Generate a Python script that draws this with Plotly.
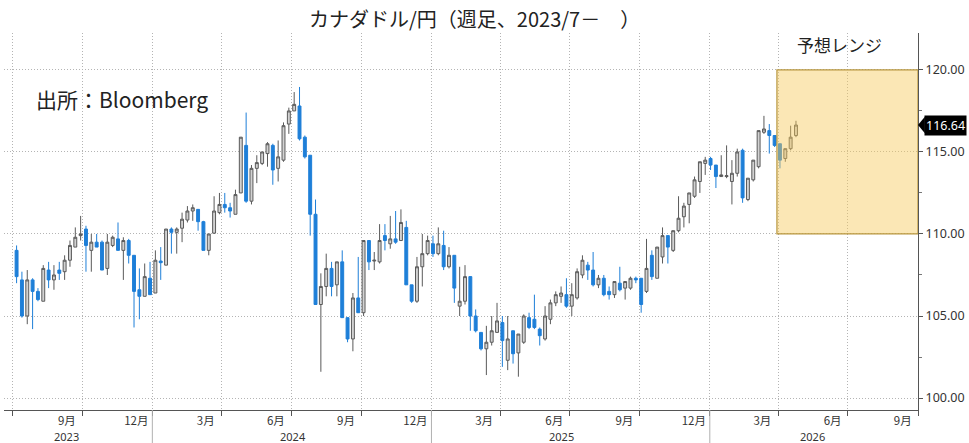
import pandas as pd
import plotly.graph_objects as go

# ---------------- data (weekly CAD/JPY) ----------------
week_start = "2023-07-07"
open_ = [109.0,107.2,105.0,107.2,106.5,105.9,107.8,107.2,107.8,107.7,108.4,109.2,109.9,110.3,109.0,109.5,109.5,107.9,109.3,109.7,
         109.0,109.6,108.7,106.6,106.2,107.3,106.4,108.35,108.1,110.3,110.1,110.35,110.85,111.4,111.5,110.75,109.0,110.05,111.3,111.8,
         111.6,111.2,112.5,115.4,112.0,114.0,114.3,114.9,115.4,114.0,114.5,116.7,117.5,117.8,115.9,114.8,111.2,105.7,106.8,107.9,
         106.9,108.3,104.9,103.6,106.1,105.2,109.6,108.35,108.3,109.9,109.4,109.7,109.6,110.4,106.9,105.9,108.0,108.8,109.4,108.8,
         109.3,108.0,108.7,105.6,105.9,107.4,105.0,104.0,103.0,103.4,104.0,104.6,102.3,104.1,102.75,103.4,104.9,104.8,104.2,103.6,
         104.8,105.8,106.2,106.3,105.6,106.1,107.5,108.1,107.8,106.9,107.3,106.5,106.3,107.0,106.7,106.7,107.3,107.3,106.5,108.7,
         107.3,108.6,109.9,109.0,110.2,111.05,111.8,112.3,113.2,114.3,114.6,114.2,113.5,113.5,113.2,113.7,115.1,112.1,113.3,114.1,
         116.2,116.3,116.0,115.5,114.6,115.2,116.0]
high = [109.3,107.7,107.8,107.3,106.7,108.1,108.3,108.1,108.3,108.7,109.6,110.4,111.1,110.5,110.0,110.0,109.6,110.0,109.9,110.7,
        109.8,109.7,108.7,107.9,108.2,108.3,109.0,109.2,110.3,110.4,110.4,111.3,111.7,111.8,111.5,110.8,110.0,112.3,112.5,112.5,
        111.9,112.7,115.9,117.4,114.2,114.8,115.0,115.6,115.5,115.7,116.8,117.7,118.65,118.96,116.0,114.8,112.1,107.6,108.8,108.3,
        108.3,109.0,104.9,106.4,108.6,109.6,109.6,108.9,110.6,110.6,111.1,111.4,111.5,110.8,106.9,108.6,110.0,109.9,109.9,110.4,
        110.2,109.2,108.7,108.0,108.1,107.4,105.4,104.0,104.4,105.0,105.8,105.0,105.0,104.1,103.9,105.1,105.2,106.3,104.3,105.6,
        106.0,106.5,106.8,107.3,107.0,107.9,108.7,108.3,108.9,107.5,107.5,106.8,107.1,108.0,107.1,107.4,107.4,107.3,109.7,109.0,
        109.2,110.4,109.9,110.2,112.3,111.9,112.5,113.5,114.4,114.7,114.7,114.2,114.8,115.4,114.5,115.2,115.2,113.4,114.5,116.3,
        117.2,116.7,116.0,115.5,115.2,116.6,116.9]
low = [107.0,104.9,104.5,104.2,105.9,105.9,106.7,106.6,107.2,107.2,108.0,109.2,109.6,107.7,107.7,109.2,107.8,107.5,109.2,109.0,
       107.2,108.2,104.3,104.8,106.2,106.3,106.4,107.2,108.1,108.8,108.8,109.5,110.7,110.8,110.2,109.0,108.7,110.0,111.2,111.3,
       111.0,111.2,112.5,111.9,111.8,113.1,114.2,114.1,113.0,113.2,114.4,116.1,117.5,115.7,114.6,109.9,105.7,101.6,106.2,106.2,
       106.2,104.9,103.4,102.85,105.2,105.0,107.8,107.8,108.2,109.0,109.1,109.4,109.6,106.9,105.8,105.8,106.8,108.7,108.6,108.7,
       107.8,107.9,105.8,105.0,105.7,104.1,104.0,102.9,101.4,103.2,104.0,101.9,101.7,102.1,101.3,103.3,104.2,104.2,103.2,103.5,
       104.5,105.6,105.8,105.5,105.0,106.0,107.3,107.2,106.8,106.7,106.2,106.0,106.1,106.5,106.0,106.6,107.0,105.2,106.4,107.2,
       107.3,108.2,108.2,108.9,110.1,110.4,110.65,112.2,112.5,113.6,113.9,112.8,113.5,113.4,111.8,113.5,111.9,112.0,113.2,114.0,
       116.1,114.9,115.3,114.0,114.4,115.1,115.9]
close = [107.4,105.0,107.2,106.5,106.0,107.9,107.2,107.5,107.6,108.4,109.3,109.8,110.0,109.3,109.5,109.2,107.8,109.5,109.8,109.0,
         109.6,108.7,106.5,106.2,107.4,106.3,108.4,108.25,110.3,110.1,110.3,110.9,111.4,111.6,110.75,109.0,110.0,111.4,111.8,111.6,
         111.4,112.4,115.9,112.0,114.0,114.35,115.0,115.5,113.9,114.7,116.6,117.5,117.9,115.8,114.7,111.2,105.7,106.8,107.9,106.8,
         108.3,104.9,103.6,106.1,105.2,109.6,108.3,108.4,109.6,109.6,109.7,109.5,110.7,106.9,105.9,108.0,108.8,109.6,108.8,109.4,
         108.0,108.7,106.7,105.9,107.4,105.0,104.1,103.0,103.4,104.1,104.7,103.5,103.6,102.7,103.9,105.0,104.3,104.3,103.8,105.0,
         105.8,106.3,106.4,105.6,106.3,107.7,108.4,107.8,106.9,107.3,106.3,106.3,107.1,106.6,107.1,107.3,107.2,105.7,107.9,107.4,
         109.2,109.9,109.2,110.2,110.96,111.7,112.5,113.3,114.4,114.5,114.2,113.5,113.6,113.55,113.7,115.0,112.2,113.4,114.5,116.3,
         116.4,116.0,115.4,114.5,115.2,115.9,116.64]
dates = pd.date_range(week_start, periods=len(close), freq="7D")

last_price = 116.64
forecast_low, forecast_high = 110.0, 120.0
forecast_start, forecast_end = "2026-03-30", "2026-10-01"

x_range = ["2023-06-20 12:00", "2026-10-01"]
y_range = [99.27, 122.25]
y_ticks = [100, 105, 110, 115, 120]

month_label_dates = ["2023-09-11", "2023-12-11", "2024-03-11", "2024-06-11", "2024-09-11", "2024-12-11",
                     "2025-03-11", "2025-06-11", "2025-09-11", "2025-12-11", "2026-03-11", "2026-06-11", "2026-09-11"]
month_labels = ["9月", "12月", "3月", "6月", "9月", "12月", "3月", "6月", "9月", "12月", "3月", "6月", "9月"]
quarter_lines = ["2023-07-01", "2023-10-01", "2024-01-01", "2024-04-01", "2024-07-01", "2024-10-01", "2025-01-01",
                 "2025-04-01", "2025-07-01", "2025-10-01", "2026-01-01", "2026-04-01", "2026-07-01", "2026-10-01"]
year_lines = ["2024-01-01", "2025-01-01", "2026-01-01"]
year_label_dates = ["2023-09-11", "2024-07-03", "2025-06-21", "2026-05-15"]
year_labels = ["2023", "2024", "2025", "2026"]

JP = "Noto Sans CJK JP"
BLUE = "#1E7FD8"
GRID = "#b4b4b4"
GRID_DASH = "1px,2px"

fig = go.Figure()
fig.add_trace(go.Candlestick(
    x=dates, open=open_, high=high, low=low, close=close,
    increasing=dict(fillcolor="#d2d2d2", line=dict(color="#5a5a5a", width=1)),
    decreasing=dict(fillcolor=BLUE, line=dict(color=BLUE, width=1)),
    whiskerwidth=0, showlegend=False, hoverinfo="skip",
))

shapes = []
# forecast range box (semi-transparent, over the candles)
shapes.append(dict(type="rect", xref="x", yref="y", x0=forecast_start, x1=forecast_end,
                   y0=forecast_low, y1=forecast_high, fillcolor="#F7C95A", opacity=0.45,
                   line=dict(width=0), layer="above"))
shapes.append(dict(type="rect", xref="x", yref="y", x0=forecast_start, x1=forecast_end,
                   y0=forecast_low, y1=forecast_high, fillcolor="rgba(0,0,0,0)",
                   line=dict(color="#B8963E", width=1.2), layer="above"))
# year separator lines under the axis
for d in year_lines:
    shapes.append(dict(type="line", xref="x", yref="paper", x0=d, x1=d, y0=0, y1=-0.09,
                       line=dict(color="#b0b0b0", width=1)))
# last-price marker arrow
shapes.append(dict(type="path", xref="paper", yref="y",
                   path=f"M 1.0,{last_price} L 1.0075,{last_price + 0.5} L 1.0075,{last_price - 0.5} Z",
                   fillcolor="black", line=dict(width=0)))

annotations = [
    dict(text="カナダドル/円（週足、2023/7－　）", xref="paper", yref="paper", x=0.515, y=1.0, yshift=15,
         xanchor="center", yanchor="middle", showarrow=False, font=dict(family=JP, size=20, color="#222")),
    dict(text="出所：Bloomberg", xref="paper", yref="paper", x=0.033, y=0.825,
         xanchor="left", yanchor="middle", showarrow=False, font=dict(family=JP, size=21, color="#222")),
    dict(text="予想レンジ", xref="x", yref="paper", x="2026-06-20", y=0.97,
         xanchor="center", yanchor="middle", showarrow=False, font=dict(family=JP, size=17, color="#222")),
    dict(text=f"{last_price:.2f}", xref="paper", yref="y", x=1.0, xshift=6, y=last_price,
         xanchor="left", yanchor="middle", showarrow=False, bgcolor="black", borderpad=1,
         font=dict(family="Noto Sans", size=12.5, color="white")),
]
for d, t in zip(year_label_dates, year_labels):
    annotations.append(dict(text=t, xref="x", yref="paper", x=d, y=-0.0695, xanchor="center",
                            yanchor="middle", showarrow=False, font=dict(family="Noto Sans", size=11, color="#333")))

fig.update_layout(
    width=969, height=443,
    margin=dict(l=4, r=51, t=33, b=33, autoexpand=False),
    paper_bgcolor="white", plot_bgcolor="white",
    boxgap=0.22,
    shapes=shapes, annotations=annotations,
    xaxis=dict(
        type="date", range=x_range, rangeslider=dict(visible=False),
        tickmode="array", tickvals=month_label_dates, ticktext=month_labels,
        ticks="", showgrid=False, showline=True, linecolor="#555", linewidth=1,
        tickfont=dict(family=JP, size=11.5, color="#333"),
        minor=dict(tickmode="array", tickvals=quarter_lines, ticks="outside", ticklen=5,
                   tickcolor="#555", showgrid=True, gridcolor=GRID, griddash=GRID_DASH, gridwidth=1),
        zeroline=False, fixedrange=True,
    ),
    yaxis=dict(
        side="right", range=y_range, tickmode="array", tickvals=y_ticks, tickformat=".2f",
        ticks="outside", ticklen=4, tickcolor="#555", showline=True, linecolor="#555", linewidth=1,
        showgrid=True, gridcolor=GRID, griddash=GRID_DASH, gridwidth=1,
        tickfont=dict(family="Noto Sans", size=12.5, color="#333"),
        minor=dict(dtick=2.5, tick0=100, ticks="outside", ticklen=3, tickcolor="#777", showgrid=False),
        zeroline=False, fixedrange=True,
    ),
)

fig.write_html("out.html", config=dict(displayModeBar=False),
               post_script="document.body.style.margin='0';document.body.style.overflow='hidden';")
